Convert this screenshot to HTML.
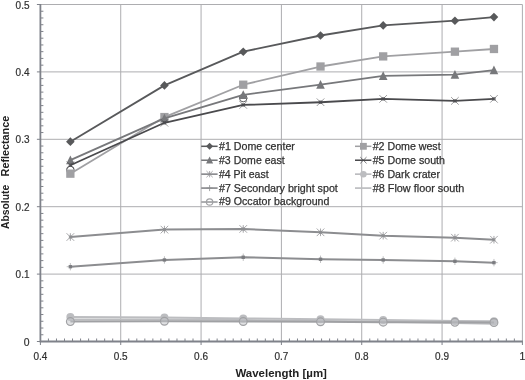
<!DOCTYPE html>
<html><head><meta charset="utf-8"><title>Absolute Reflectance vs Wavelength</title>
<style>html,body{margin:0;padding:0;background:#fff;overflow:hidden}svg{display:block}</style></head>
<body>
<svg width="525" height="380" viewBox="0 0 525 380">
<rect width="525" height="380" fill="#fff"/>
<path d="M120.73 4.50V341.50M201.07 4.50V341.50M281.40 4.50V341.50M361.73 4.50V341.50M442.07 4.50V341.50M522.40 4.50V341.50M40.40 274.10H522.40M40.40 206.70H522.40M40.40 139.30H522.40M40.40 71.90H522.40M40.40 4.50H522.40" stroke="#adadb0" stroke-width="1" fill="none"/>
<path d="M40.40 4.00V342.20M39.70 341.50H522.90" stroke="#7f828a" stroke-width="1.8" fill="none"/>
<path d="M36.90 341.50H40.40M40.40 334.76H43.40M40.40 328.02H43.40M40.40 321.28H43.40M40.40 314.54H43.40M40.40 307.80H43.40M40.40 301.06H43.40M40.40 294.32H43.40M40.40 287.58H43.40M40.40 280.84H43.40M36.90 274.10H40.40M40.40 267.36H43.40M40.40 260.62H43.40M40.40 253.88H43.40M40.40 247.14H43.40M40.40 240.40H43.40M40.40 233.66H43.40M40.40 226.92H43.40M40.40 220.18H43.40M40.40 213.44H43.40M36.90 206.70H40.40M40.40 199.96H43.40M40.40 193.22H43.40M40.40 186.48H43.40M40.40 179.74H43.40M40.40 173.00H43.40M40.40 166.26H43.40M40.40 159.52H43.40M40.40 152.78H43.40M40.40 146.04H43.40M36.90 139.30H40.40M40.40 132.56H43.40M40.40 125.82H43.40M40.40 119.08H43.40M40.40 112.34H43.40M40.40 105.60H43.40M40.40 98.86H43.40M40.40 92.12H43.40M40.40 85.38H43.40M40.40 78.64H43.40M36.90 71.90H40.40M40.40 65.16H43.40M40.40 58.42H43.40M40.40 51.68H43.40M40.40 44.94H43.40M40.40 38.20H43.40M40.40 31.46H43.40M40.40 24.72H43.40M40.40 17.98H43.40M40.40 11.24H43.40M36.90 4.50H40.40M40.40 341.50V345.00M48.43 338.50V341.50M56.47 338.50V341.50M64.50 338.50V341.50M72.53 338.50V341.50M80.57 338.50V341.50M88.60 338.50V341.50M96.63 338.50V341.50M104.67 338.50V341.50M112.70 338.50V341.50M120.73 341.50V345.00M128.77 338.50V341.50M136.80 338.50V341.50M144.83 338.50V341.50M152.87 338.50V341.50M160.90 338.50V341.50M168.93 338.50V341.50M176.97 338.50V341.50M185.00 338.50V341.50M193.03 338.50V341.50M201.07 341.50V345.00M209.10 338.50V341.50M217.13 338.50V341.50M225.17 338.50V341.50M233.20 338.50V341.50M241.23 338.50V341.50M249.27 338.50V341.50M257.30 338.50V341.50M265.33 338.50V341.50M273.37 338.50V341.50M281.40 341.50V345.00M289.43 338.50V341.50M297.47 338.50V341.50M305.50 338.50V341.50M313.53 338.50V341.50M321.57 338.50V341.50M329.60 338.50V341.50M337.63 338.50V341.50M345.67 338.50V341.50M353.70 338.50V341.50M361.73 341.50V345.00M369.77 338.50V341.50M377.80 338.50V341.50M385.83 338.50V341.50M393.87 338.50V341.50M401.90 338.50V341.50M409.93 338.50V341.50M417.97 338.50V341.50M426.00 338.50V341.50M434.03 338.50V341.50M442.07 341.50V345.00M450.10 338.50V341.50M458.13 338.50V341.50M466.17 338.50V341.50M474.20 338.50V341.50M482.23 338.50V341.50M490.27 338.50V341.50M498.30 338.50V341.50M506.33 338.50V341.50M514.37 338.50V341.50M522.40 341.50V345.00" stroke="#7f828a" stroke-width="1" fill="none"/>
<circle cx="70.36" cy="169.97" r="3.8" fill="#fff" stroke="#4a4a4d" stroke-width="0.9"/>
<circle cx="243.24" cy="98.05" r="3.8" fill="#fff" stroke="#4a4a4d" stroke-width="0.9"/>
<polyline points="70.36,141.66 164.43,85.38 243.24,51.68 320.52,35.50 383.18,25.39 454.92,20.68 493.96,17.10" fill="none" stroke="#58595b" stroke-width="1.8" stroke-linejoin="round"/>
<path d="M70.36 137.36L74.66 141.66L70.36 145.96L66.06 141.66Z" fill="#58595b"/>
<path d="M164.43 81.08L168.73 85.38L164.43 89.68L160.13 85.38Z" fill="#58595b"/>
<path d="M243.24 47.38L247.54 51.68L243.24 55.98L238.94 51.68Z" fill="#58595b"/>
<path d="M320.52 31.20L324.82 35.50L320.52 39.80L316.22 35.50Z" fill="#58595b"/>
<path d="M383.18 21.09L387.48 25.39L383.18 29.69L378.88 25.39Z" fill="#58595b"/>
<path d="M454.92 16.38L459.22 20.68L454.92 24.98L450.62 20.68Z" fill="#58595b"/>
<path d="M493.96 12.80L498.26 17.10L493.96 21.40L489.66 17.10Z" fill="#58595b"/>
<polyline points="70.36,173.67 164.43,117.06 243.24,84.71 320.52,66.51 383.18,56.40 454.92,51.68 493.96,48.98" fill="none" stroke="#a0a0a3" stroke-width="1.8" stroke-linejoin="round"/>
<rect x="66.21" y="169.52" width="8.3" height="8.3" fill="#a0a0a3"/>
<rect x="160.28" y="112.91" width="8.3" height="8.3" fill="#a0a0a3"/>
<rect x="239.09" y="80.56" width="8.3" height="8.3" fill="#a0a0a3"/>
<rect x="316.37" y="62.36" width="8.3" height="8.3" fill="#a0a0a3"/>
<rect x="379.03" y="52.25" width="8.3" height="8.3" fill="#a0a0a3"/>
<rect x="450.77" y="47.53" width="8.3" height="8.3" fill="#a0a0a3"/>
<rect x="489.81" y="44.83" width="8.3" height="8.3" fill="#a0a0a3"/>
<polyline points="70.36,160.06 164.43,118.41 243.24,94.82 320.52,84.71 383.18,75.94 454.92,74.60 493.96,70.21" fill="none" stroke="#77787b" stroke-width="1.8" stroke-linejoin="round"/>
<path d="M70.36 155.42L74.66 164.14L66.06 164.14Z" fill="#77787b"/>
<path d="M164.43 113.76L168.73 122.49L160.13 122.49Z" fill="#77787b"/>
<path d="M243.24 90.17L247.54 98.90L238.94 98.90Z" fill="#77787b"/>
<path d="M320.52 80.06L324.82 88.79L316.22 88.79Z" fill="#77787b"/>
<path d="M383.18 71.30L387.48 80.03L378.88 80.03Z" fill="#77787b"/>
<path d="M454.92 69.95L459.22 78.68L450.62 78.68Z" fill="#77787b"/>
<path d="M493.96 65.57L498.26 74.30L489.66 74.30Z" fill="#77787b"/>
<polyline points="70.36,237.03 164.43,229.62 243.24,228.94 320.52,232.31 383.18,235.68 454.92,237.70 493.96,239.73" fill="none" stroke="#8c8d90" stroke-width="2.0" stroke-linejoin="round"/>
<path d="M66.56 233.23L74.16 240.83M66.56 240.83L74.16 233.23M70.36 233.23L70.36 240.83" stroke="#8c8d90" stroke-width="0.9" stroke-opacity="0.85" fill="none"/><rect x="68.86" y="235.53" width="3.00" height="3.00" fill="#8c8d90" fill-opacity="0.8"/>
<path d="M160.63 225.82L168.23 233.42M160.63 233.42L168.23 225.82M164.43 225.82L164.43 233.42" stroke="#8c8d90" stroke-width="0.9" stroke-opacity="0.85" fill="none"/><rect x="162.93" y="228.12" width="3.00" height="3.00" fill="#8c8d90" fill-opacity="0.8"/>
<path d="M239.44 225.14L247.04 232.74M239.44 232.74L247.04 225.14M243.24 225.14L243.24 232.74" stroke="#8c8d90" stroke-width="0.9" stroke-opacity="0.85" fill="none"/><rect x="241.74" y="227.44" width="3.00" height="3.00" fill="#8c8d90" fill-opacity="0.8"/>
<path d="M316.72 228.51L324.32 236.11M316.72 236.11L324.32 228.51M320.52 228.51L320.52 236.11" stroke="#8c8d90" stroke-width="0.9" stroke-opacity="0.85" fill="none"/><rect x="319.02" y="230.81" width="3.00" height="3.00" fill="#8c8d90" fill-opacity="0.8"/>
<path d="M379.38 231.88L386.98 239.48M379.38 239.48L386.98 231.88M383.18 231.88L383.18 239.48" stroke="#8c8d90" stroke-width="0.9" stroke-opacity="0.85" fill="none"/><rect x="381.68" y="234.18" width="3.00" height="3.00" fill="#8c8d90" fill-opacity="0.8"/>
<path d="M451.12 233.90L458.72 241.50M451.12 241.50L458.72 233.90M454.92 233.90L454.92 241.50" stroke="#8c8d90" stroke-width="0.9" stroke-opacity="0.85" fill="none"/><rect x="453.42" y="236.20" width="3.00" height="3.00" fill="#8c8d90" fill-opacity="0.8"/>
<path d="M490.16 235.93L497.76 243.53M490.16 243.53L497.76 235.93M493.96 235.93L493.96 243.53" stroke="#8c8d90" stroke-width="0.9" stroke-opacity="0.85" fill="none"/><rect x="492.46" y="238.23" width="3.00" height="3.00" fill="#8c8d90" fill-opacity="0.8"/>
<polyline points="70.36,165.25 164.43,122.79 243.24,104.93 320.52,102.23 383.18,98.86 454.92,100.88 493.96,98.86" fill="none" stroke="#4a4a4d" stroke-width="1.8" stroke-linejoin="round"/>
<path d="M66.56 161.45L74.16 169.05M66.56 169.05L74.16 161.45" stroke="#4a4a4d" stroke-width="0.9" stroke-opacity="0.6" fill="none"/><rect x="68.66" y="163.55" width="3.40" height="3.40" fill="#4a4a4d" fill-opacity="0.75"/>
<path d="M160.63 118.99L168.23 126.59M160.63 126.59L168.23 118.99" stroke="#4a4a4d" stroke-width="0.9" stroke-opacity="0.6" fill="none"/><rect x="162.73" y="121.09" width="3.40" height="3.40" fill="#4a4a4d" fill-opacity="0.75"/>
<path d="M239.44 101.13L247.04 108.73M239.44 108.73L247.04 101.13" stroke="#4a4a4d" stroke-width="0.9" stroke-opacity="0.6" fill="none"/><rect x="241.54" y="103.23" width="3.40" height="3.40" fill="#4a4a4d" fill-opacity="0.75"/>
<path d="M316.72 98.43L324.32 106.03M316.72 106.03L324.32 98.43" stroke="#4a4a4d" stroke-width="0.9" stroke-opacity="0.6" fill="none"/><rect x="318.82" y="100.53" width="3.40" height="3.40" fill="#4a4a4d" fill-opacity="0.75"/>
<path d="M379.38 95.06L386.98 102.66M379.38 102.66L386.98 95.06" stroke="#4a4a4d" stroke-width="0.9" stroke-opacity="0.6" fill="none"/><rect x="381.48" y="97.16" width="3.40" height="3.40" fill="#4a4a4d" fill-opacity="0.75"/>
<path d="M451.12 97.08L458.72 104.68M451.12 104.68L458.72 97.08" stroke="#4a4a4d" stroke-width="0.9" stroke-opacity="0.6" fill="none"/><rect x="453.22" y="99.18" width="3.40" height="3.40" fill="#4a4a4d" fill-opacity="0.75"/>
<path d="M490.16 95.06L497.76 102.66M490.16 102.66L497.76 95.06" stroke="#4a4a4d" stroke-width="0.9" stroke-opacity="0.6" fill="none"/><rect x="492.26" y="97.16" width="3.40" height="3.40" fill="#4a4a4d" fill-opacity="0.75"/>
<polyline points="70.36,317.03 164.43,317.57 243.24,318.45 320.52,319.26 383.18,320.07 454.92,320.88 493.96,321.28" fill="none" stroke="#bcbdc0" stroke-width="2.0" stroke-linejoin="round"/>
<circle cx="70.36" cy="317.03" r="4.0" fill="#bcbdc0"/>
<circle cx="164.43" cy="317.57" r="4.0" fill="#bcbdc0"/>
<circle cx="243.24" cy="318.45" r="4.0" fill="#bcbdc0"/>
<circle cx="320.52" cy="319.26" r="4.0" fill="#bcbdc0"/>
<circle cx="383.18" cy="320.07" r="4.0" fill="#bcbdc0"/>
<circle cx="454.92" cy="320.88" r="4.0" fill="#bcbdc0"/>
<circle cx="493.96" cy="321.28" r="4.0" fill="#bcbdc0"/>
<polyline points="70.36,266.69 164.43,259.95 243.24,257.25 320.52,259.27 383.18,259.95 454.92,261.29 493.96,262.64" fill="none" stroke="#8c8d90" stroke-width="2.0" stroke-linejoin="round"/>
<path d="M70.36 262.99L70.36 270.39M66.66 266.69L74.06 266.69" stroke="#8c8d90" stroke-width="0.9" stroke-opacity="0.6" fill="none"/><rect x="68.66" y="264.99" width="3.40" height="3.40" fill="#77787c" fill-opacity="0.9"/>
<path d="M164.43 256.25L164.43 263.65M160.73 259.95L168.13 259.95" stroke="#8c8d90" stroke-width="0.9" stroke-opacity="0.6" fill="none"/><rect x="162.73" y="258.25" width="3.40" height="3.40" fill="#77787c" fill-opacity="0.9"/>
<path d="M243.24 253.55L243.24 260.95M239.54 257.25L246.94 257.25" stroke="#8c8d90" stroke-width="0.9" stroke-opacity="0.6" fill="none"/><rect x="241.54" y="255.55" width="3.40" height="3.40" fill="#77787c" fill-opacity="0.9"/>
<path d="M320.52 255.57L320.52 262.97M316.82 259.27L324.22 259.27" stroke="#8c8d90" stroke-width="0.9" stroke-opacity="0.6" fill="none"/><rect x="318.82" y="257.57" width="3.40" height="3.40" fill="#77787c" fill-opacity="0.9"/>
<path d="M383.18 256.25L383.18 263.65M379.48 259.95L386.88 259.95" stroke="#8c8d90" stroke-width="0.9" stroke-opacity="0.6" fill="none"/><rect x="381.48" y="258.25" width="3.40" height="3.40" fill="#77787c" fill-opacity="0.9"/>
<path d="M454.92 257.59L454.92 264.99M451.22 261.29L458.62 261.29" stroke="#8c8d90" stroke-width="0.9" stroke-opacity="0.6" fill="none"/><rect x="453.22" y="259.59" width="3.40" height="3.40" fill="#77787c" fill-opacity="0.9"/>
<path d="M493.96 258.94L493.96 266.34M490.26 262.64L497.66 262.64" stroke="#8c8d90" stroke-width="0.9" stroke-opacity="0.6" fill="none"/><rect x="492.26" y="260.94" width="3.40" height="3.40" fill="#77787c" fill-opacity="0.9"/>
<polyline points="70.36,319.60 164.43,319.39 243.24,320.07 320.52,320.88 383.18,321.82 454.92,322.90 493.96,323.64" fill="none" stroke="#bcbdc0" stroke-width="2.0" stroke-linejoin="round"/>
<polyline points="70.36,321.62 164.43,321.28 243.24,321.48 320.52,321.82 383.18,322.16 454.92,322.36 493.96,322.49" fill="none" stroke="#a0a1a4" stroke-width="2.0" stroke-linejoin="round"/>
<circle cx="70.36" cy="321.62" r="3.9" fill="#c2c3c7" fill-opacity="0.5" stroke="#a0a1a4" stroke-width="1.2"/>
<circle cx="164.43" cy="321.28" r="3.9" fill="#c2c3c7" fill-opacity="0.5" stroke="#a0a1a4" stroke-width="1.2"/>
<circle cx="243.24" cy="321.48" r="3.9" fill="#c2c3c7" fill-opacity="0.5" stroke="#a0a1a4" stroke-width="1.2"/>
<circle cx="320.52" cy="321.82" r="3.9" fill="#c2c3c7" fill-opacity="0.5" stroke="#a0a1a4" stroke-width="1.2"/>
<circle cx="383.18" cy="322.16" r="3.9" fill="#c2c3c7" fill-opacity="0.5" stroke="#a0a1a4" stroke-width="1.2"/>
<circle cx="454.92" cy="322.36" r="3.9" fill="#c2c3c7" fill-opacity="0.5" stroke="#a0a1a4" stroke-width="1.2"/>
<circle cx="493.96" cy="322.49" r="3.9" fill="#c2c3c7" fill-opacity="0.5" stroke="#a0a1a4" stroke-width="1.2"/>
<text x="29.5" y="345.60" text-anchor="end" font-family="Liberation Sans, sans-serif" font-size="10.4" fill="#303030" stroke="#303030" stroke-width="0.2">0</text>
<text x="29.5" y="278.20" text-anchor="end" font-family="Liberation Sans, sans-serif" font-size="10.4" fill="#303030" stroke="#303030" stroke-width="0.2" textLength="13.9" lengthAdjust="spacingAndGlyphs">0.1</text>
<text x="29.5" y="210.80" text-anchor="end" font-family="Liberation Sans, sans-serif" font-size="10.4" fill="#303030" stroke="#303030" stroke-width="0.2" textLength="13.9" lengthAdjust="spacingAndGlyphs">0.2</text>
<text x="29.5" y="143.40" text-anchor="end" font-family="Liberation Sans, sans-serif" font-size="10.4" fill="#303030" stroke="#303030" stroke-width="0.2" textLength="13.9" lengthAdjust="spacingAndGlyphs">0.3</text>
<text x="29.5" y="76.00" text-anchor="end" font-family="Liberation Sans, sans-serif" font-size="10.4" fill="#303030" stroke="#303030" stroke-width="0.2" textLength="13.9" lengthAdjust="spacingAndGlyphs">0.4</text>
<text x="29.5" y="8.60" text-anchor="end" font-family="Liberation Sans, sans-serif" font-size="10.4" fill="#303030" stroke="#303030" stroke-width="0.2" textLength="13.9" lengthAdjust="spacingAndGlyphs">0.5</text>
<text x="40.40" y="359.5" text-anchor="middle" font-family="Liberation Sans, sans-serif" font-size="10.4" fill="#303030" stroke="#303030" stroke-width="0.2" textLength="13.9" lengthAdjust="spacingAndGlyphs">0.4</text>
<text x="120.73" y="359.5" text-anchor="middle" font-family="Liberation Sans, sans-serif" font-size="10.4" fill="#303030" stroke="#303030" stroke-width="0.2" textLength="13.9" lengthAdjust="spacingAndGlyphs">0.5</text>
<text x="201.07" y="359.5" text-anchor="middle" font-family="Liberation Sans, sans-serif" font-size="10.4" fill="#303030" stroke="#303030" stroke-width="0.2" textLength="13.9" lengthAdjust="spacingAndGlyphs">0.6</text>
<text x="281.40" y="359.5" text-anchor="middle" font-family="Liberation Sans, sans-serif" font-size="10.4" fill="#303030" stroke="#303030" stroke-width="0.2" textLength="13.9" lengthAdjust="spacingAndGlyphs">0.7</text>
<text x="361.73" y="359.5" text-anchor="middle" font-family="Liberation Sans, sans-serif" font-size="10.4" fill="#303030" stroke="#303030" stroke-width="0.2" textLength="13.9" lengthAdjust="spacingAndGlyphs">0.8</text>
<text x="442.07" y="359.5" text-anchor="middle" font-family="Liberation Sans, sans-serif" font-size="10.4" fill="#303030" stroke="#303030" stroke-width="0.2" textLength="13.9" lengthAdjust="spacingAndGlyphs">0.9</text>
<text x="522.40" y="359.5" text-anchor="middle" font-family="Liberation Sans, sans-serif" font-size="10.4" fill="#303030" stroke="#303030" stroke-width="0.2">1</text>
<text x="281.2" y="376.6" text-anchor="middle" font-family="Liberation Sans, sans-serif" font-size="11.2" font-weight="bold" fill="#222" textLength="91.5" lengthAdjust="spacingAndGlyphs">Wavelength [µm]</text>
<text transform="translate(9.1 229) rotate(-90)" font-family="Liberation Sans, sans-serif" font-size="11.2" font-weight="bold" fill="#222" textLength="44.2" lengthAdjust="spacingAndGlyphs">Absolute</text>
<text transform="translate(9.1 176.4) rotate(-90)" font-family="Liberation Sans, sans-serif" font-size="11.2" font-weight="bold" fill="#222" textLength="60.6" lengthAdjust="spacingAndGlyphs">Reflectance</text>
<path d="M201.20 146.30H217.60" stroke="#58595b" stroke-width="1.53"/>
<path d="M209.60 142.77L213.13 146.30L209.60 149.83L206.07 146.30Z" fill="#58595b"/>
<text x="219.00" y="150.20" font-family="Liberation Sans, sans-serif" font-size="10.7" fill="#303030" stroke="#303030" stroke-width="0.25" textLength="75.9" lengthAdjust="spacingAndGlyphs">#1 Dome center</text>
<path d="M355.00 146.30H371.40" stroke="#a0a0a3" stroke-width="1.53"/>
<rect x="360.00" y="142.90" width="6.806" height="6.806" fill="#a0a0a3"/>
<text x="372.70" y="150.20" font-family="Liberation Sans, sans-serif" font-size="10.7" fill="#303030" stroke="#303030" stroke-width="0.25" textLength="67.9" lengthAdjust="spacingAndGlyphs">#2 Dome west</text>
<path d="M201.20 160.23H217.60" stroke="#77787b" stroke-width="1.53"/>
<path d="M209.60 156.42L213.13 163.58L206.07 163.58Z" fill="#77787b"/>
<text x="219.00" y="164.00" font-family="Liberation Sans, sans-serif" font-size="10.7" fill="#303030" stroke="#303030" stroke-width="0.25" textLength="65.6" lengthAdjust="spacingAndGlyphs">#3 Dome east</text>
<path d="M355.00 160.23H371.40" stroke="#4a4a4d" stroke-width="1.53"/>
<path d="M360.28 157.11L366.52 163.35M360.28 163.35L366.52 157.11" stroke="#4a4a4d" stroke-width="0.9" stroke-opacity="0.85" fill="none"/>
<text x="372.70" y="164.00" font-family="Liberation Sans, sans-serif" font-size="10.7" fill="#303030" stroke="#303030" stroke-width="0.25" textLength="72.3" lengthAdjust="spacingAndGlyphs">#5 Dome south</text>
<path d="M201.20 174.16H217.60" stroke="#8c8d90" stroke-width="1.70"/>
<path d="M206.48 171.04L212.72 177.28M206.48 177.28L212.72 171.04M209.60 171.04L209.60 177.28" stroke="#8c8d90" stroke-width="0.9" stroke-opacity="0.85" fill="none"/>
<text x="219.00" y="177.80" font-family="Liberation Sans, sans-serif" font-size="10.7" fill="#303030" stroke="#303030" stroke-width="0.25" textLength="49.6" lengthAdjust="spacingAndGlyphs">#4 Pit east</text>
<path d="M355.00 174.16H371.40" stroke="#bcbdc0" stroke-width="1.70"/>
<circle cx="363.40" cy="174.16" r="3.28" fill="#bcbdc0"/>
<text x="372.70" y="177.80" font-family="Liberation Sans, sans-serif" font-size="10.7" fill="#303030" stroke="#303030" stroke-width="0.25" textLength="67.3" lengthAdjust="spacingAndGlyphs">#6 Dark crater</text>
<path d="M201.20 188.09H217.60" stroke="#8c8d90" stroke-width="1.70"/>
<path d="M209.60 185.06L209.60 191.12M206.57 188.09L212.63 188.09" stroke="#8c8d90" stroke-width="0.9" stroke-opacity="0.9" fill="none"/>
<text x="219.00" y="191.60" font-family="Liberation Sans, sans-serif" font-size="10.7" fill="#303030" stroke="#303030" stroke-width="0.25" textLength="118.8" lengthAdjust="spacingAndGlyphs">#7 Secondary bright spot</text>
<path d="M355.00 188.09H371.40" stroke="#bcbdc0" stroke-width="1.70"/>
<text x="372.70" y="191.60" font-family="Liberation Sans, sans-serif" font-size="10.7" fill="#303030" stroke="#303030" stroke-width="0.25" textLength="91.7" lengthAdjust="spacingAndGlyphs">#8 Flow floor south</text>
<path d="M201.20 202.02H217.60" stroke="#a0a1a4" stroke-width="1.70"/>
<circle cx="209.60" cy="202.02" r="3.198" fill="none" fill-opacity="0.5" stroke="#a0a1a4" stroke-width="1.2"/>
<text x="219.00" y="205.40" font-family="Liberation Sans, sans-serif" font-size="10.7" fill="#303030" stroke="#303030" stroke-width="0.25" textLength="110.4" lengthAdjust="spacingAndGlyphs">#9 Occator background</text>
</svg>
</body></html>
